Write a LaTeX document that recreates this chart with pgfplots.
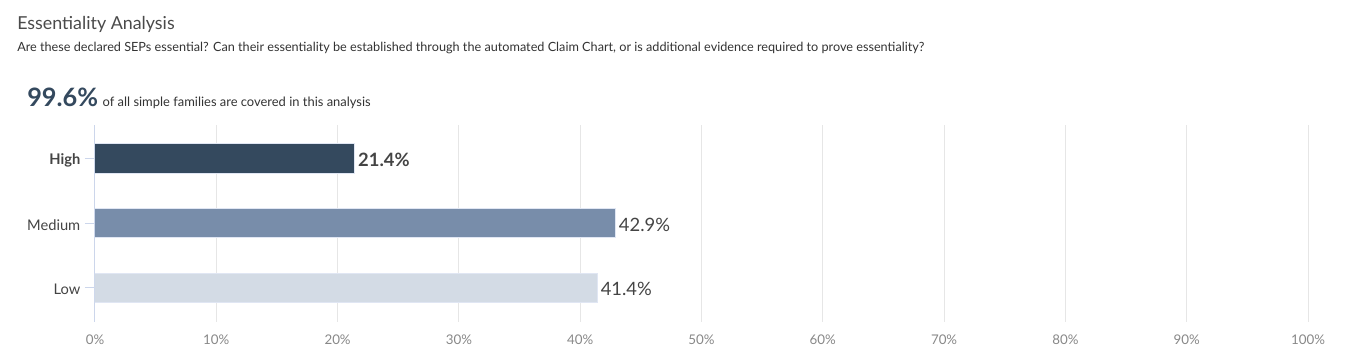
\documentclass[border=0pt]{standalone}
\usepackage{pgfplots}
\pgfplotsset{compat=1.18}
\usepackage{fontspec}
\setmainfont{Lato}
\definecolor{highc}{HTML}{34495E}
\definecolor{medc}{HTML}{788DAA}
\definecolor{lowc}{HTML}{D3DBE5}
\definecolor{gridc}{HTML}{E6E6E6}
\definecolor{axisc}{HTML}{CCD6EB}
\definecolor{titlec}{HTML}{333333}
\definecolor{headc}{HTML}{4A4A4A}
\definecolor{tickc}{HTML}{888888}
\definecolor{labc}{HTML}{444444}
\begin{document}
\begin{tikzpicture}
\useasboundingbox (-71.25pt,-29.25pt) rectangle (944.25pt,241.5pt);
\node[anchor=base west, inner sep=0pt, text=headc, font=\fontsize{13.4}{16}\selectfont] at (-58.5pt,219.5pt) {Essentiality Analysis};
\node[anchor=base west, inner sep=0pt, text=titlec, font=\fontsize{9.5}{11}\selectfont] at (-58.5pt,202.5pt) {Are these declared SEPs essential? Can their essentiality be established through the automated Claim Chart, or is additional evidence required to prove essentiality?};
\node[anchor=base west, inner sep=0pt, text=highc, font=\fontsize{19}{22}\selectfont\bfseries] (big) at (-51pt,161.25pt) {99.6\%};
\node[anchor=base west, inner sep=0pt, text=titlec, font=\fontsize{9.7}{11}\selectfont] at ([xshift=3pt]big.base east) {of all simple families are covered in this analysis};
\begin{axis}[
  at={(0,0)}, anchor=south west,
  scale only axis, width=909.75pt, height=147.75pt,
  xbar, bar width=22pt, bar shift=0pt,
  xmin=0, xmax=100, ymin=-0.52, ymax=2.53, y dir=reverse,
  axis y line*=left, axis x line*=bottom,
  x axis line style={draw=none},
  y axis line style={-, color=axisc, line width=0.75pt},
  ytick={0,1,2}, yticklabels={\textbf{High},Medium,Low},
  xtick={0,10,...,100},
  /pgf/number format/assume math mode=true,
  xticklabel={\pgfmathprintnumber{\tick}\%},
  xtick style={draw=none},
  ytick style={color=axisc, line width=0.75pt},
  tick align=outside, major tick length=7.5pt,
  xmajorgrids, grid style={color=gridc, line width=0.75pt},
  xticklabel style={font=\fontsize{10}{12}\selectfont, text=tickc, yshift=1.5pt},
  yticklabel style={font=\fontsize{11}{13}\selectfont, text=labc, yshift=-1.5pt},
  nodes near coords={\pgfmathprintnumber[fixed,precision=1,fixed zerofill]{\pgfplotspointmeta}\%},
  nodes near coords style={anchor=west, font=\fontsize{13.8}{15}\selectfont, text=labc, xshift=-1pt, yshift=-1pt},
  point meta=x,
]
\addplot[fill=highc, draw=axisc!60!white, line width=0.75pt, nodes near coords style={font=\fontsize{13.8}{15}\selectfont\bfseries}] coordinates {(21.4,0)};
\addplot[fill=medc, draw=axisc!60!white, line width=0.75pt] coordinates {(42.9,1)};
\addplot[fill=lowc, draw=axisc!60!white, line width=0.75pt] coordinates {(41.4,2)};
\end{axis}
\end{tikzpicture}
\end{document}
